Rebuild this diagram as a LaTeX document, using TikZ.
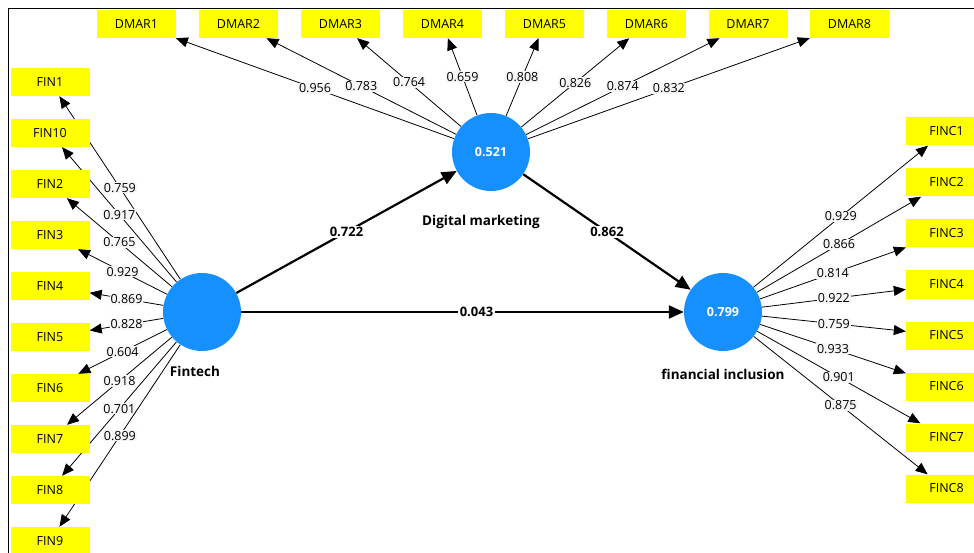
\documentclass[tikz,border=0pt]{standalone}
\usepackage{fontspec}
\setmainfont{Open Sans}
\usetikzlibrary{arrows.meta,positioning,backgrounds}
\definecolor{lvazul}{RGB}{22,144,255}
\definecolor{indamarillo}{RGB}{255,255,0}
\begin{document}
\begin{tikzpicture}[x=1pt,y=-1pt,
  ind/.style={fill=indamarillo,minimum width=79pt,minimum height=28pt,inner sep=0pt,font=\fontsize{12.5}{14}\selectfont},
  lv/.style={circle,fill=lvazul,minimum size=78pt,inner sep=0pt,text=white,font=\bfseries\fontsize{12.5}{14}\selectfont},
  lvnom/.style={font=\bfseries\fontsize{13.5}{15}\selectfont},
  carga/.style={-{Triangle[length=12pt,width=10pt]},line width=.8pt},
  coef/.style={-{Triangle[length=15pt,width=13pt]},line width=2.2pt},
  etq/.style={fill=gray!6,inner sep=1pt,font=\fontsize{12.5}{14}\selectfont},
  etqb/.style={fill=white,inner sep=1.5pt,font=\bfseries\fontsize{13}{14}\selectfont}]
\useasboundingbox (0,0) rectangle (974,553);
\clip (0,0) rectangle (974,553);
% Marco
\draw[line width=1.6pt] (8.5,553) -- (8.5,8.5) -- (974,8.5);
% Variables latentes
\node[lv] (fin) at (202,312) {};
\node[lv] (dm) at (491,152) {0.521};
\node[lv] (fi) at (723,312) {0.799};
\node[lvnom,below=12pt of fin,xshift=-7pt] (finnom) {Fintech};
\node[lvnom,below=21pt of dm,xshift=-10pt] (dmnom) {Digital marketing};
\node[lvnom,below=14pt of fi] (finom) {financial inclusion};
% Indicadores: Digital marketing
\node[ind] (dmar1) at (136.5,24) {DMAR1};
\node[ind] (dmar2) at (238.5,24) {DMAR2};
\node[ind] (dmar3) at (340.5,24) {DMAR3};
\node[ind] (dmar4) at (442.5,24) {DMAR4};
\node[ind] (dmar5) at (544.5,24) {DMAR5};
\node[ind] (dmar6) at (646.5,24) {DMAR6};
\node[ind] (dmar7) at (748,24) {DMAR7};
\node[ind] (dmar8) at (849.5,24) {DMAR8};
% Indicadores: Fintech
\node[ind] (fin1) at (50,82) {FIN1};
\node[ind] (fin10) at (50,133) {FIN10};
\node[ind] (fin2) at (50,184) {FIN2};
\node[ind] (fin3) at (50,235) {FIN3};
\node[ind] (fin4) at (50,286) {FIN4};
\node[ind] (fin5) at (50,337) {FIN5};
\node[ind] (fin6) at (50,388) {FIN6};
\node[ind] (fin7) at (50,439) {FIN7};
\node[ind] (fin8) at (50,490) {FIN8};
\node[ind] (fin9) at (50,541) {FIN9};
% Indicadores: financial inclusion
\node[ind] (finc1) at (945.5,131.5) {\hspace{2pt}FINC1};
\node[ind] (finc2) at (945.5,182.5) {\hspace{2pt}FINC2};
\node[ind] (finc3) at (945.5,233.5) {\hspace{2pt}FINC3};
\node[ind] (finc4) at (945.5,284.5) {\hspace{2pt}FINC4};
\node[ind] (finc5) at (945.5,335.5) {\hspace{2pt}FINC5};
\node[ind] (finc6) at (945.5,386.5) {\hspace{2pt}FINC6};
\node[ind] (finc7) at (945.5,437.5) {\hspace{2pt}FINC7};
\node[ind] (finc8) at (945.5,488.5) {\hspace{2pt}FINC8};
\begin{scope}[on background layer]
% Cargas externas
\draw[carga] (dm) -- node[etq] {0.956} (dmar1);
\draw[carga] (dm) -- node[etq] {0.783} (dmar2);
\draw[carga] (dm) -- node[etq] {0.764} (dmar3);
\draw[carga] (dm) -- node[etq] {0.659} (dmar4);
\draw[carga] (dm) -- node[etq] {0.808} (dmar5);
\draw[carga] (dm) -- node[etq] {0.826} (dmar6);
\draw[carga] (dm) -- node[etq] {0.874} (dmar7);
\draw[carga] (dm) -- node[etq] {0.832} (dmar8);
\draw[carga] (fin) -- node[etq] {0.759} (fin1);
\draw[carga] (fin) -- node[etq] {0.917} (fin10);
\draw[carga] (fin) -- node[etq] {0.765} (fin2);
\draw[carga] (fin) -- node[etq] {0.929} (fin3);
\draw[carga] (fin) -- node[etq] {0.869} (fin4);
\draw[carga] (fin) -- node[etq] {0.828} (fin5);
\draw[carga] (fin) -- node[etq] {0.604} (fin6);
\draw[carga] (fin) -- node[etq] {0.918} (fin7);
\draw[carga] (fin) -- node[etq] {0.701} (fin8);
\draw[carga] (fin) -- node[etq] {0.899} (fin9);
\draw[carga] (fi) -- node[etq] {0.929} (finc1);
\draw[carga] (fi) -- node[etq] {0.866} (finc2);
\draw[carga] (fi) -- node[etq] {0.814} (finc3);
\draw[carga] (fi) -- node[etq] {0.922} (finc4);
\draw[carga] (fi) -- node[etq] {0.759} (finc5);
\draw[carga] (fi) -- node[etq] {0.933} (finc6);
\draw[carga] (fi) -- node[etq] {0.901} (finc7);
\draw[carga] (fi) -- node[etq] {0.875} (finc8);
\end{scope}
% Coeficientes de ruta
\draw[coef] (fin) -- node[etqb] {0.722} (dm);
\draw[coef] (dm) -- node[etqb] {0.862} (fi);
\draw[coef] (fin) -- node[etqb,xshift=14pt] {0.043} (fi);
\end{tikzpicture}
\end{document}
